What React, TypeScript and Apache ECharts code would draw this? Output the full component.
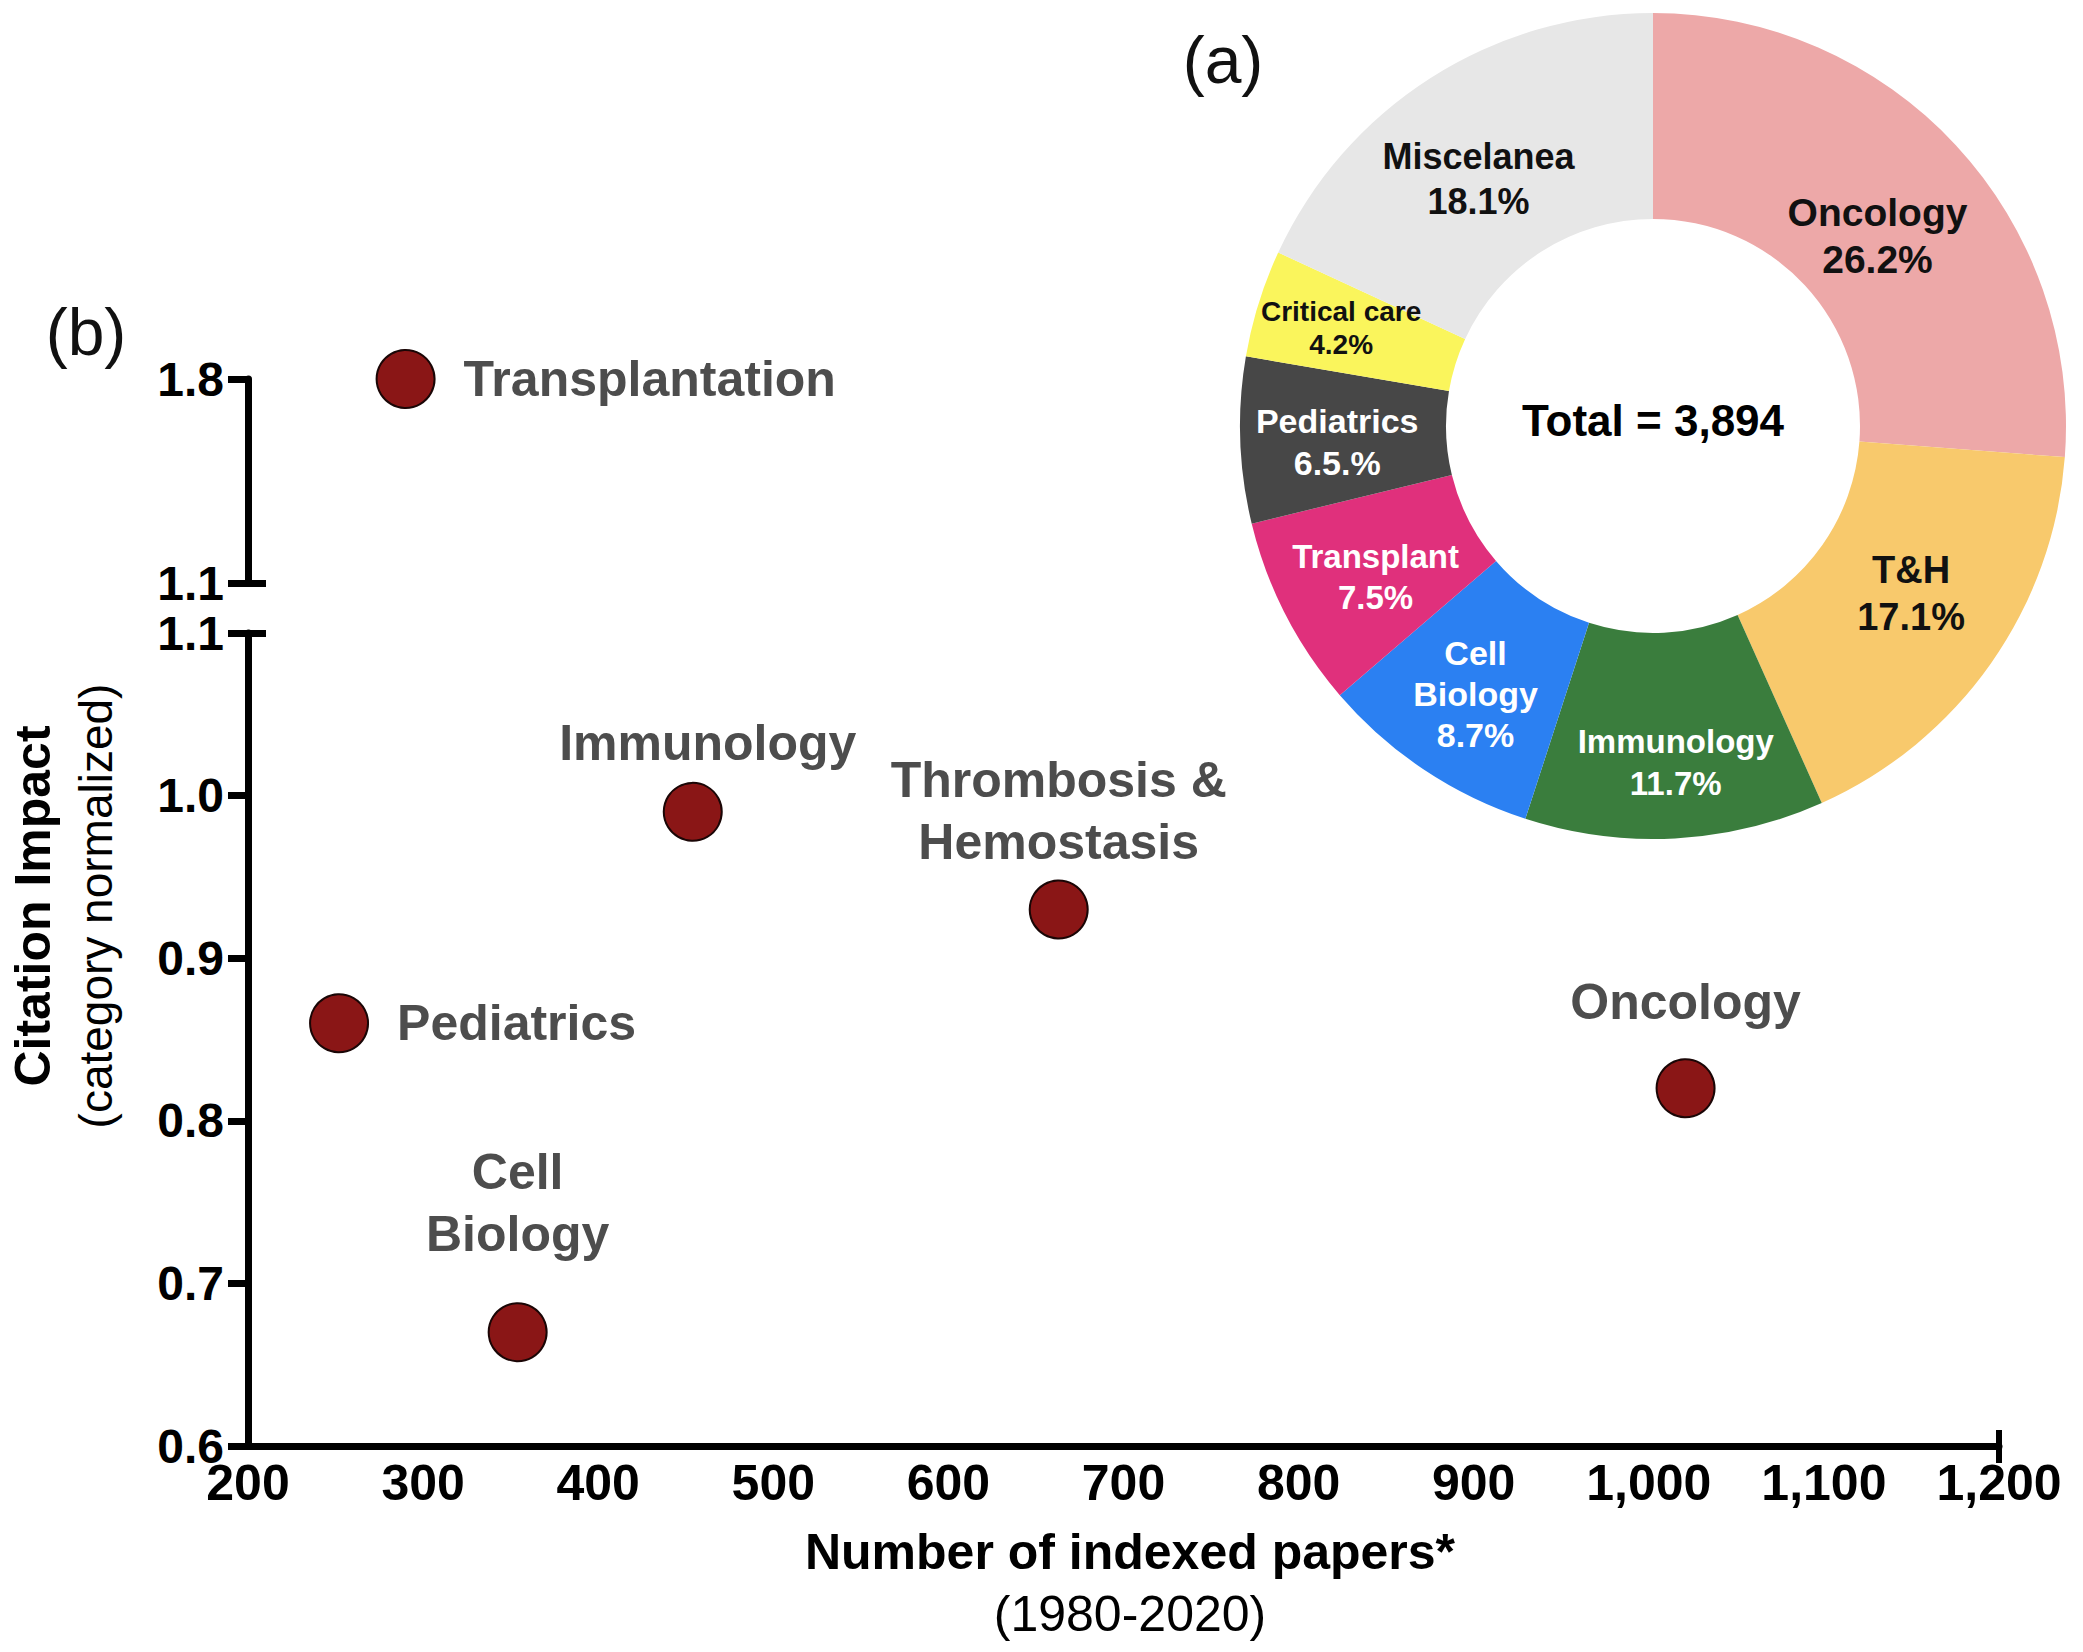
import React, { useEffect, useRef } from "react";
import * as echarts from "echarts";

const FONT = "'Liberation Sans', Arial, Helvetica, sans-serif";

// ---- Panel (b): scatter data ----
const fieldNames = [
  "Transplantation",
  "Immunology",
  "Thrombosis &\nHemostasis",
  "Pediatrics",
  "Cell\nBiology",
  "Oncology",
];
const indexedPapers = [290, 454, 663, 252, 354, 1021];
const citationImpact = [1.8, 0.99, 0.93, 0.86, 0.67, 0.82];

// axis ranges (broken y axis)
const xMin = 200;
const xMax = 1200;
const xStep = 100;
const yLowMin = 0.6;
const yLowMax = 1.1;
const yStep = 0.1;
const yHighTicks = [1.1, 1.8];

// ---- Panel (a): donut data ----
const pieCategories = [
  "Oncology",
  "T&H",
  "Immunology",
  "Cell Biology",
  "Transplant",
  "Pediatrics",
  "Critical care",
  "Miscelanea",
];
const pieShares = [26.2, 17.1, 11.7, 8.7, 7.5, 6.5, 4.2, 18.1];
const pieShareLabels = ["26.2%", "17.1%", "11.7%", "8.7%", "7.5%", "6.5.%", "4.2%", "18.1%"];
const totalPapers = 3894;

// ---- styles (not data) ----
const pieColors = ["#EDA8A8", "#F8C96C", "#3A7D3D", "#2B80F2", "#E0307C", "#474747", "#FAF55C", "#E7E7E7"];
const pieTextColors = ["#111", "#111", "#fff", "#fff", "#fff", "#fff", "#111", "#111"];
const pieFontSizes = [39, 38, 33, 34, 33, 34, 28, 36];
const pieLineHeights = [47, 47, 42, 41, 41, 42, 33, 45];
const pieLabelShift = [
  [-5, 23],
  [2, -12],
  [6, 24],
  [-4, 7],
  [1, 8],
  [-3, 5],
  [-13, -5],
  [-6, 17],
];

const scatterLabelPlacement: Record<string, any> = {
  Transplantation: { position: "right", distance: 28 },
  Pediatrics: { position: "right", distance: 28 },
  Immunology: { position: "inside", offset: [15, -69] },
  "Thrombosis &\nHemostasis": { position: "inside", offset: [0, -98] },
  "Cell\nBiology": { position: "inside", offset: [0, -129] },
  Oncology: { position: "inside", offset: [0, -86] },
};

const AXIS_W = 7;

export default function App() {
  const ref = useRef<HTMLDivElement>(null);

  useEffect(() => {
    if (!ref.current) return;
    const chart = echarts.init(ref.current, undefined, { renderer: "svg" });

    const upperData: any[] = [];
    const lowerData: any[] = [];
    fieldNames.forEach((n, i) => {
      const item = {
        name: n,
        value: [indexedPapers[i], citationImpact[i]],
        label: { ...scatterLabelPlacement[n] },
      };
      (citationImpact[i] > yLowMax ? upperData : lowerData).push(item);
    });

    const scatterLabel = {
      show: true,
      formatter: "{b}",
      color: "#4d4d4d",
      fontSize: 50,
      fontWeight: "bold",
      fontFamily: FONT,
      lineHeight: 62,
    };
    const scatterItem = { color: "#8A1616", borderColor: "#1a0606", borderWidth: 2, opacity: 1 };

    const tickLabel = {
      fontSize: 50,
      fontWeight: "bold",
      color: "#000",
      fontFamily: FONT,
    };
    const yTickLabel = { ...tickLabel, fontSize: 48, lineHeight: 40, margin: 24 };
    const axisLine = { show: true, onZero: false, lineStyle: { color: "#000", width: AXIS_W } };
    const tickStyle = { color: "#000", width: AXIS_W };

    const option: any = {
      animation: false,
      backgroundColor: "#fff",
      grid: [
        { left: 248, width: 1751, top: 633, height: 813 },
        { left: 248, width: 1751, top: 379, height: 204 },
      ],
      xAxis: [
        {
          gridIndex: 0,
          type: "value",
          position: "bottom",
          min: xMin,
          max: xMax,
          interval: xStep,
          axisLine,
          axisTick: { show: true, customValues: [xMax], length: 17, lineStyle: { color: "#000", width: 6 } },
          axisLabel: {
            ...tickLabel,
            margin: 12,
            formatter: (v: number) => v.toLocaleString("en-US"),
          },
          splitLine: { show: false },
        },
        { gridIndex: 1, type: "value", min: xMin, max: xMax, show: false },
        {
          gridIndex: 0,
          type: "value",
          position: "bottom",
          min: xMin,
          max: xMax,
          axisLine: { show: false },
          axisLabel: { show: false },
          splitLine: { show: false },
          axisTick: { show: true, inside: true, customValues: [xMax], length: 16, lineStyle: { color: "#000", width: 6 } },
        },
      ],
      yAxis: [
        {
          gridIndex: 0,
          type: "value",
          position: "left",
          min: yLowMin,
          max: yLowMax,
          interval: yStep,
          axisLine,
          axisTick: { show: true, length: 20, lineStyle: tickStyle },
          axisLabel: { ...yTickLabel, formatter: (v: number) => v.toFixed(1) },
          splitLine: { show: false },
        },
        {
          gridIndex: 1,
          type: "value",
          position: "left",
          min: yHighTicks[0],
          max: yHighTicks[yHighTicks.length - 1],
          axisLine,
          axisTick: { show: true, customValues: yHighTicks, length: 20, lineStyle: tickStyle },
          axisLabel: {
            ...yTickLabel,
            customValues: yHighTicks,
            formatter: (v: number) => v.toFixed(1),
          },
          splitLine: { show: false },
        },
        {
          gridIndex: 0,
          type: "value",
          position: "left",
          min: yLowMin,
          max: yLowMax,
          axisLine: { show: false },
          axisLabel: { show: false },
          splitLine: { show: false },
          axisTick: { show: true, inside: true, customValues: [yLowMax], length: 18, lineStyle: tickStyle },
        },
        {
          gridIndex: 1,
          type: "value",
          position: "left",
          min: yHighTicks[0],
          max: yHighTicks[yHighTicks.length - 1],
          axisLine: { show: false },
          axisLabel: { show: false },
          splitLine: { show: false },
          axisTick: { show: true, inside: true, customValues: [yHighTicks[0]], length: 18, lineStyle: tickStyle },
        },
      ],
      series: [
        {
          type: "scatter",
          xAxisIndex: 0,
          yAxisIndex: 0,
          symbol: "circle",
          symbolSize: 58,
          itemStyle: scatterItem,
          label: scatterLabel,
          emphasis: { disabled: true },
          data: lowerData,
          z: 3,
        },
        {
          type: "scatter",
          xAxisIndex: 1,
          yAxisIndex: 1,
          symbol: "circle",
          symbolSize: 58,
          itemStyle: scatterItem,
          label: scatterLabel,
          emphasis: { disabled: true },
          data: upperData,
          z: 3,
        },
        {
          type: "pie",
          center: [1653, 426],
          radius: [207, 413],
          startAngle: 90,
          clockwise: true,
          avoidLabelOverlap: false,
          itemStyle: { borderWidth: 0 },
          label: {
            show: true,
            position: "inside",
            fontWeight: "bold",
            fontFamily: FONT,
          },
          labelLine: { show: false },
          emphasis: { disabled: true },
          data: pieCategories.map((name, i) => ({
            name,
            value: pieShares[i],
            itemStyle: { color: pieColors[i] },
            label: {
              formatter: () =>
                (name === "Cell Biology" ? "Cell\nBiology" : name) + "\n" + pieShareLabels[i],
              color: pieTextColors[i],
              fontSize: pieFontSizes[i],
              lineHeight: pieLineHeights[i],
              offset: pieLabelShift[i],
            },
          })),
        },
      ],
      graphic: [
        {
          type: "text",
          x: 1223,
          y: 60,
          style: { text: "(a)", fontSize: 66, fontFamily: FONT, fill: "#111", align: "center", verticalAlign: "middle" },
        },
        {
          type: "text",
          x: 86,
          y: 332,
          style: { text: "(b)", fontSize: 66, fontFamily: FONT, fill: "#111", align: "center", verticalAlign: "middle" },
        },
        {
          type: "text",
          x: 1653,
          y: 420,
          z: 10,
          style: {
            text: "Total = " + totalPapers.toLocaleString("en-US"),
            fontSize: 44,
            fontWeight: "bold",
            fontFamily: FONT,
            fill: "#000",
            align: "center",
            verticalAlign: "middle",
          },
        },
        {
          type: "text",
          x: 33,
          y: 906,
          rotation: Math.PI / 2,
          style: {
            text: "Citation Impact",
            fontSize: 50,
            fontWeight: "bold",
            fontFamily: FONT,
            fill: "#000",
            align: "center",
            verticalAlign: "middle",
          },
        },
        {
          type: "text",
          x: 96,
          y: 906,
          rotation: Math.PI / 2,
          style: {
            text: "(category normalized)",
            fontSize: 46,
            fontFamily: FONT,
            fill: "#000",
            align: "center",
            verticalAlign: "middle",
          },
        },
        {
          type: "text",
          x: 1130,
          y: 1552,
          style: {
            text: "Number of indexed papers*",
            fontSize: 50,
            fontWeight: "bold",
            fontFamily: FONT,
            fill: "#000",
            align: "center",
            verticalAlign: "middle",
          },
        },
        {
          type: "text",
          x: 1130,
          y: 1614,
          style: {
            text: "(1980-2020)",
            fontSize: 50,
            fontFamily: FONT,
            fill: "#000",
            align: "center",
            verticalAlign: "middle",
          },
        },
      ],
    };

    chart.setOption(option);
    return () => chart.dispose();
  }, []);

  return (
    <div
      ref={ref}
      style={{ position: "fixed", left: 0, top: 0, width: 2083, height: 1652, background: "#fff" }}
    />
  );
}
